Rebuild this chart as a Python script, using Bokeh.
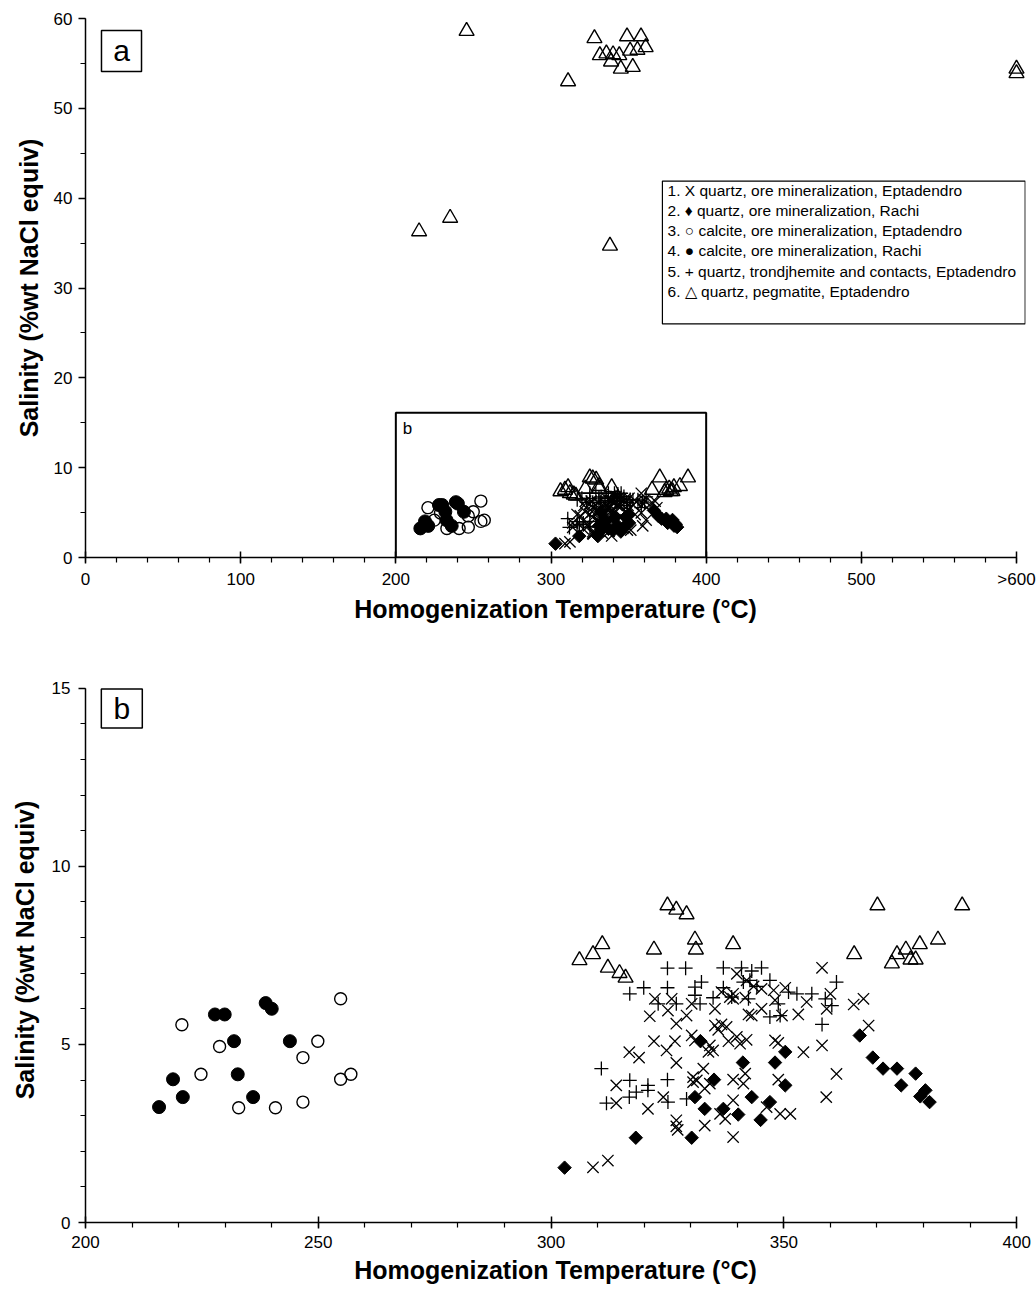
import math
from bokeh.plotting import figure
from bokeh.models import FixedTicker, BoxAnnotation, Label, Range1d
from bokeh.layouts import column
from bokeh.embed import file_html
from bokeh.resources import INLINE

FONT = "Liberation Sans"

# ---------------- data ----------------
# 1. X quartz, ore mineralization, Eptadendro
qx_T = [322.3, 325.9, 330.2, 325.1, 321.2, 326.9, 329.1, 330.2, 322.1, 326.6, 324.8, 316.8, 318.9,
        326.9, 314.0, 314.0, 320.8, 324.1, 326.9, 326.9, 327.2, 330.5, 330.5, 309.0, 312.2,
        358.2, 339.9, 342.0, 343.5, 345.2, 347.8, 350.3, 339.1, 336.6, 338.4, 339.1, 341.7, 354.9,
        360.0, 359.2, 335.2, 345.2, 348.1, 342.4, 343.1, 353.1, 349.6, 335.2, 336.6, 335.9, 337.7,
        330.9, 334.1, 334.8, 333.8, 338.1, 339.9, 340.6, 342.0, 348.1, 348.8, 354.2, 358.2, 341.7,
        339.1, 348.8, 332.7, 331.3, 334.1, 333.0, 341.3, 339.1, 336.3, 337.4, 333.0, 346.3, 349.2,
        351.4, 339.1, 361.3, 359.1, 365.0, 367.1, 368.2]
qx_S = [6.28, 6.28, 6.14, 5.95, 5.79, 5.58, 5.81, 5.25, 5.09, 5.09, 4.83, 4.78, 4.63,
        4.48, 3.85, 3.35, 3.19, 3.52, 2.87, 2.70, 2.60, 4.08, 3.94, 1.55, 1.74,
        7.15, 6.98, 6.80, 6.63, 6.56, 6.52, 6.59, 6.42, 6.47, 6.33, 6.28, 6.31, 6.19,
        6.42, 6.00, 6.00, 6.00, 6.24, 5.84, 5.81, 5.84, 5.81, 5.53, 5.56, 5.41, 5.49,
        5.11, 4.97, 4.83, 4.79, 5.09, 5.21, 5.02, 5.13, 5.11, 5.04, 4.78, 4.97, 4.18,
        4.01, 4.01, 4.32, 3.99, 3.90, 3.76, 3.90, 3.43, 3.05, 2.91, 2.72, 3.24, 3.05,
        3.05, 2.40, 4.17, 3.52, 6.12, 6.28, 5.53]

# 2. quartz, ore mineralization, Rachi (filled diamonds)
qr_T = [302.9, 318.2, 330.2, 332.1, 330.9, 335.0, 333.0, 337.0, 340.2, 341.2, 343.1, 345.0, 347.0,
        348.1, 350.3, 350.3, 366.3, 369.1, 371.3, 374.3, 375.2, 378.3, 379.3, 380.4, 381.3]
qr_S = [1.54, 2.38, 2.38, 5.09, 3.52, 4.01, 3.19, 3.19, 3.03, 4.49, 3.52, 2.88, 3.38,
        4.49, 4.79, 3.85, 5.25, 4.63, 4.32, 4.32, 3.85, 4.18, 3.54, 3.71, 3.38]

# 3. calcite, ore mineralization, Eptadendro (open circles)
ce_T = [220.7, 228.8, 224.8, 249.9, 246.7, 254.8, 254.8, 257.0, 232.9, 240.8, 246.7]
ce_S = [5.55, 4.94, 4.16, 5.09, 4.63, 6.28, 4.02, 4.16, 3.22, 3.22, 3.38]

# 4. calcite, ore mineralization, Rachi (filled circles)
cr_T = [227.8, 229.9, 238.7, 240.0, 231.9, 243.9, 218.8, 232.7, 220.9, 236.0, 215.8]
cr_S = [5.84, 5.84, 6.16, 6.00, 5.09, 5.09, 4.02, 4.16, 3.52, 3.52, 3.24]

# 5. quartz, trondjhemite and contacts, Eptadendro (+)
qt_T = [325.0, 328.9, 316.9, 319.9, 325.0, 330.9, 330.9, 332.3, 323.0, 326.9, 310.8, 316.9, 320.8,
        325.0, 318.3, 316.8, 311.9, 320.8, 325.1, 329.1,
        337.0, 340.9, 343.1, 345.2, 341.3, 342.7, 347.0, 344.2, 337.0, 334.8, 338.8, 342.4, 351.0,
        352.8, 356.0, 361.3, 358.9, 360.3, 348.8, 347.0, 349.2, 358.2, 332.0]
qt_S = [7.14, 7.14, 6.42, 6.59, 6.59, 6.61, 6.38, 6.75, 6.14, 6.14, 4.32, 3.99, 3.85,
        4.01, 3.66, 3.52, 3.35, 3.71, 3.38, 3.47,
        7.15, 7.15, 7.06, 7.15, 6.75, 6.80, 6.80, 6.63, 6.59, 6.31, 6.33, 6.28, 6.47,
        6.42, 6.42, 6.75, 6.28, 6.09, 6.14, 5.77, 5.81, 5.56, 6.14]

# 6. quartz, pegmatite, Eptadendro (open triangles); 600 stands for ">600"
qp_T = [245.6, 311.0, 328.0, 331.5, 335.7, 340.0, 344.0, 349.0, 351.0, 338.7, 345.0, 352.7, 355.7,
        358.0, 361.0, 600.0, 600.0, 215.0, 235.0, 338.0,
        325.0, 326.9, 329.1, 330.9, 331.1, 322.1, 311.0, 309.0, 306.1, 312.2, 314.7, 316.0, 339.1,
        370.1, 388.3, 365.1, 383.1, 379.2, 376.2, 374.3, 373.2, 377.2, 378.3]
qp_S = [58.6, 53.0, 57.8, 55.9, 56.1, 56.0, 55.9, 58.0, 56.4, 55.2, 54.4, 54.6, 56.5,
        58.0, 56.8, 54.4, 53.9, 36.3, 37.8, 34.7,
        8.90, 8.78, 8.65, 7.94, 7.66, 7.66, 7.81, 7.53, 7.36, 7.15, 7.00, 6.87, 7.81,
        8.90, 8.90, 7.53, 7.94, 7.81, 7.66, 7.53, 7.27, 7.38, 7.38]

legend_lines = [
    "1. X quartz, ore mineralization, Eptadendro",
    "2. \u2666 quartz, ore mineralization, Rachi",
    "3. \u25cb calcite, ore mineralization, Eptadendro",
    "4. \u25cf calcite, ore mineralization, Rachi",
    "5. + quartz, trondjhemite and contacts, Eptadendro",
    "6. \u25b3  quartz, pegmatite, Eptadendro",
]

x_title = "Homogenization Temperature (\u00b0C)"
y_title = "Salinity (%wt NaCl equiv)"


def subset(T, S, x0, x1, y1):
    pts = [(t, s) for t, s in zip(T, S) if x0 <= t <= x1 and s <= y1]
    return [p[0] for p in pts], [p[1] for p in pts]


def draw_series(p, x0, x1, y1):
    t, s = subset(qx_T, qx_S, x0, x1, y1)
    p.scatter(t, s, marker="x", size=16, line_color="black", line_width=1.3)
    t, s = subset(qt_T, qt_S, x0, x1, y1)
    p.scatter(t, s, marker="cross", size=14, line_color="black", line_width=1.3)
    t, s = subset(qp_T, qp_S, x0, x1, y1)
    p.scatter(t, s, marker="triangle", size=15, line_color="black", line_width=1.4,
              fill_alpha=0)
    t, s = subset(ce_T, ce_S, x0, x1, y1)
    p.scatter(t, s, marker="circle", size=12, line_color="black", line_width=1.4,
              fill_alpha=0)
    t, s = subset(cr_T, cr_S, x0, x1, y1)
    p.scatter(t, s, marker="circle", size=13, line_color="black", fill_color="black")
    t, s = subset(qr_T, qr_S, x0, x1, y1)
    p.scatter(t, s, marker="square", angle=math.pi / 4, size=9.5, line_color="black",
              fill_color="black")


def box(left, right, bottom, top, lw, fill=None):
    if fill is None:
        return BoxAnnotation(left=left, right=right, bottom=bottom, top=top, fill_alpha=0,
                             line_color="black", line_alpha=1.0, line_width=lw)
    return BoxAnnotation(left=left, right=right, bottom=bottom, top=top, fill_color=fill,
                         fill_alpha=1.0, line_color="black", line_alpha=1.0, line_width=lw)


def style(p, xt, xm, xb, yt, ym, yb, x_std, x_title_std, y_std, y_title_std):
    p.outline_line_color = None
    p.xgrid.grid_line_color = None
    p.ygrid.grid_line_color = None
    p.background_fill_color = "white"
    p.border_fill_color = "white"
    p.xaxis.ticker = FixedTicker(ticks=xt, minor_ticks=xm)
    p.yaxis.ticker = FixedTicker(ticks=yt, minor_ticks=ym)
    p.xaxis.bounds = xb
    p.yaxis.bounds = yb
    for ax in (p.xaxis, p.yaxis):
        ax.axis_line_width = 1.5
        ax.axis_line_color = "black"
        ax.major_tick_line_width = 1.5
        ax.major_tick_line_color = "black"
        ax.minor_tick_line_width = 1.2
        ax.minor_tick_line_color = "black"
        ax.minor_tick_in = 0
        ax.minor_tick_out = 5
        ax.major_label_text_font = FONT
        ax.major_label_text_font_size = "17px"
        ax.major_label_text_color = "black"
        ax.axis_label_text_font = FONT
        ax.axis_label_text_font_size = "25px"
        ax.axis_label_text_font_style = "bold"
        ax.axis_label_text_color = "black"
    p.xaxis.major_tick_in = 6
    p.xaxis.major_tick_out = 6
    p.yaxis.major_tick_in = 0
    p.yaxis.major_tick_out = 7
    p.xaxis.major_label_standoff = x_std
    p.xaxis.axis_label_standoff = x_title_std
    p.yaxis.major_label_standoff = y_std
    p.yaxis.axis_label_standoff = y_title_std
    p.xaxis.axis_label = x_title
    p.yaxis.axis_label = y_title


# ---------------- panel a ----------------
pa = figure(width=1036, height=625, x_range=Range1d(0, 605.8), y_range=Range1d(0, 60),
            output_backend="svg", toolbar_location=None,
            min_border_left=85, min_border_right=11, min_border_top=18, min_border_bottom=68)
style(pa, list(range(0, 601, 100)), list(range(0, 601, 20)), (0, 600),
      list(range(0, 61, 10)), list(range(0, 61, 5)), (0, 60), 6, 3, 6, 8)
pa.xaxis.major_label_overrides = {600: ">600"}
draw_series(pa, -1, 1000, 100)

pa.add_layout(box(200, 400, 0, 16.1, 2))
pa.add_layout(Label(x=207.5, y=14.36, text="b", text_font=FONT, text_font_size="17px",
                    text_align="center", text_baseline="middle", text_color="black"))
pa.add_layout(box(10.3, 36.1, 54.1, 58.66, 1.5))
pa.add_layout(Label(x=23.2, y=56.4, text="a", text_font=FONT, text_font_size="30px",
                    text_align="center", text_baseline="middle", text_color="black"))

# legend box
pa.add_layout(box(371.8, 605.6, 26.0, 41.9, 1.2, fill="white"))
for i, txt in enumerate(legend_lines):
    pa.add_layout(Label(x=375.1, y=40.8 - i * 2.227, text=txt, text_font=FONT,
                        text_font_size="15.5px", text_baseline="middle", text_color="black"))

# ---------------- panel b ----------------
pb = figure(width=1036, height=667, x_range=Range1d(200, 401.9), y_range=Range1d(0, 15.3),
            output_backend="svg", toolbar_location=None,
            min_border_left=85, min_border_right=11, min_border_top=52, min_border_bottom=70)
style(pb, list(range(200, 401, 50)), list(range(200, 401, 10)), (200, 400),
      list(range(0, 16, 5)), list(range(0, 16, 1)), (0, 15), 7, 5, 8, 10)
draw_series(pb, 200, 400, 15)
pb.add_layout(box(203.4, 212.2, 13.88, 14.98, 1.5))
pb.add_layout(Label(x=207.8, y=14.43, text="b", text_font=FONT, text_font_size="30px",
                    text_align="center", text_baseline="middle", text_color="black"))

layout = column(pa, pb, spacing=0)
open("out.html", "w").write(file_html(layout, INLINE))
